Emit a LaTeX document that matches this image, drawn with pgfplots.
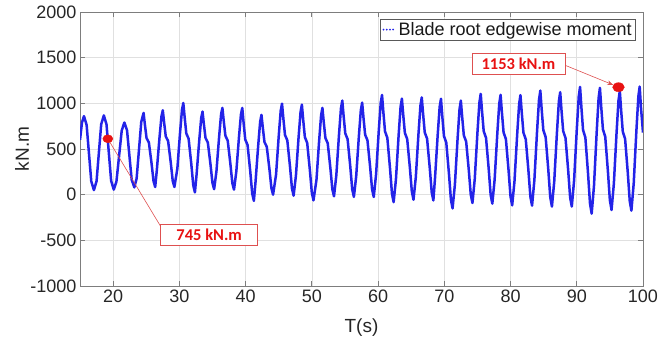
\documentclass[border=0pt]{standalone}
\usepackage{fontspec}
\setmainfont{Liberation Sans}
\newfontfamily\annfont{Carlito}
\usepackage{pgfplots}
\usepackage{pgfplotstable}
\pgfplotsset{compat=1.18}
\usetikzlibrary{arrows.meta}
\definecolor{sig}{RGB}{35,35,232}
\definecolor{axgray}{RGB}{125,125,125}
\definecolor{annred}{RGB}{232,18,18}
\definecolor{boxred}{RGB}{222,80,80}

\pgfplotstableread{
t y
15.0 600
15.3 790
15.6 860
16.0 763
16.35 455
16.7 147
17.1 50
17.5 148
17.85 459
18.2 770
18.6 868
19.0 770
19.35 462
19.7 153
20.1 55
20.5 143
20.9 423
21.3 702
21.7 790
22.1 705
22.45 435
22.8 165
23.2 80
23.55 178
23.9 488
24.25 797
24.6 895
24.8 765
25.05 619
25.4 571
25.8 344
26.1 149
26.35 84
26.6 269
27.0 622
27.3 857
27.5 924
27.7 790
27.95 638
28.3 588
28.7 353
29.0 151
29.25 84
29.7 286
30.1 673
30.4 930
30.6 1004
30.8 847
31.05 671
31.4 612
31.8 338
32.1 103
32.35 25
32.6 220
33.0 591
33.3 839
33.5 910
33.7 774
33.95 621
34.3 570
34.7 332
35.0 128
35.25 60
35.6 256
36.0 630
36.3 879
36.5 950
36.7 807
36.95 646
37.3 592
37.7 341
38.0 127
38.25 55
38.6 252
39.0 628
39.3 878
39.5 950
39.7 787
39.95 604
40.3 543
40.7 258
41.0 13
41.25 -68
41.5 139
41.9 535
42.2 799
42.4 874
42.6 734
42.85 577
43.2 524
43.6 280
43.9 70
44.15 0
44.6 219
45.0 638
45.3 917
45.5 997
45.7 836
45.95 654
46.3 594
46.7 312
47.0 70
47.25 -11
47.6 208
48.0 627
48.3 906
48.5 986
48.7 818
48.95 630
49.3 567
49.7 273
50.0 22
50.25 -62
50.7 161
51.1 586
51.4 869
51.6 950
51.8 795
52.05 621
52.4 563
52.8 292
53.1 59
53.35 -18
53.7 213
54.1 653
54.4 946
54.6 1030
54.8 861
55.05 671
55.4 608
55.8 313
56.1 59
56.35 -25
56.7 202
57.1 636
57.4 925
57.6 1008
57.8 843
58.05 657
58.4 595
58.8 306
59.1 58
59.35 -25
59.7 221
60.1 690
60.4 1003
60.6 1092
60.8 904
61.05 693
61.4 622
61.8 294
62.1 12
62.35 -82
62.7 167
63.1 644
63.4 961
63.6 1052
63.8 875
64.05 676
64.4 609
64.8 299
65.1 34
65.35 -55
65.7 191
66.1 662
66.4 975
66.6 1065
66.8 885
67.05 681
67.4 614
67.8 298
68.1 27
68.35 -63
68.6 182
69.0 649
69.3 961
69.5 1050
69.7 858
69.95 642
70.3 570
70.7 234
71.0 -54
71.25 -150
71.6 110
72.0 605
72.3 936
72.5 1030
72.7 851
72.95 649
73.3 582
73.7 268
74.0 -1
74.25 -91
74.6 172
75.0 674
75.3 1008
75.5 1104
75.7 912
75.95 695
76.3 623
76.7 287
77.0 -2
77.25 -98
77.6 164
78.0 664
78.3 998
78.5 1093
78.7 899
78.95 682
79.3 609
79.7 270
80.0 -20
80.25 -117
80.6 149
81.0 655
81.3 993
81.5 1090
81.7 896
81.95 679
82.3 606
82.7 267
83.0 -23
83.25 -120
83.6 157
84.0 686
84.3 1039
84.5 1140
84.7 937
84.95 708
85.3 632
85.7 276
86.0 -28
86.25 -130
86.6 145
87.0 671
87.3 1022
87.5 1122
87.7 922
87.95 696
88.3 621
88.7 271
89.0 -30
89.25 -130
89.6 158
90.0 708
90.3 1075
90.5 1180
90.7 958
90.95 708
91.3 625
91.7 236
92.0 -97
92.25 -208
92.6 95
93.0 674
93.3 1060
93.5 1170
93.7 956
93.95 715
94.3 635
94.7 260
95.0 -61
95.25 -168
95.6 119
96.0 666
96.3 1031
96.5 1135
96.7 925
96.95 690
97.3 611
97.7 244
98.0 -70
98.25 -175
98.6 124
99.0 695
99.3 1075
99.5 1184
99.7 950
100.0 680
}\sigdata

\begin{document}
\begin{tikzpicture}
\useasboundingbox (0pt,0pt) rectangle (660pt,346pt);
\begin{axis}[
  at={(80pt,60pt)}, anchor=south west,
  scale only axis, width=563pt, height=274pt,
  xmin=15, xmax=100, ymin=-1000, ymax=2000,
  xtick={20,30,...,100}, ytick={-1000,-500,...,2000},
  grid=major, grid style={black!12, line width=0.6pt},
  axis line style={axgray, line width=0.8pt},
  tick style={axgray, line width=0.8pt}, major tick length=5pt,
  tick align=inside, tick pos=both,
  font=\fontsize{18}{21}\selectfont,
  tick label style={font=\fontsize{18}{21}\selectfont, text=black!85},
  /pgf/number format/assume math mode=true,
  /pgf/number format/1000 sep={},
  xlabel={T(s)}, ylabel={kN.m},
  label style={font=\fontsize{19}{22}\selectfont, text=black!85},
  xlabel style={at={(axis description cs:0.5,-0.15)}, anchor=center},
  ylabel style={at={(axis description cs:-0.103,0.5)}, anchor=center},
  clip mode=individual,
  legend style={draw=black!65, fill=white, line width=0.6pt,
    at={(1,1)}, anchor=north east, xshift=-7pt, yshift=-7pt,
    inner xsep=2pt, inner ysep=1pt, font=\fontsize{18}{21}\selectfont,
    nodes={inner sep=2pt, text=black!90}},
  legend image code/.code={\draw[sig, line width=2pt, line cap=round, dash pattern=on 0pt off 3.2pt] (0pt,0pt) -- (12pt,0pt);},
]
\addplot[sig, line width=2.5pt, line join=round] table[x=t, y=y] {\sigdata};
\addlegendentry{Blade root edgewise moment}

\draw[boxred, line width=0.6pt] (axis cs:19.2,612) -- (axis cs:27.2,-350);
\draw[boxred, line width=0.6pt, -{Stealth[length=6pt,width=4.5pt]}] (axis cs:88.1,1421) -- (axis cs:95.5,1202);

\addplot[forget plot, only marks, mark=*, mark size=4pt, mark options={annred, fill=annred, xscale=1.25}] coordinates {(19.2,612)};
\addplot[forget plot, only marks, mark=*, mark size=4.5pt, mark options={annred, fill=annred, xscale=1.3}] coordinates {(96.3,1177)};

\node[draw=boxred, fill=white, line width=0.6pt, text=annred, font=\annfont\bfseries\fontsize{16.5}{19}\selectfont, minimum width=97pt, minimum height=21pt, inner sep=0pt] at (axis cs:34.5,-443) {745 kN.m};
\node[draw=boxred, fill=white, line width=0.6pt, text=annred, font=\annfont\bfseries\fontsize{16.5}{19}\selectfont, minimum width=93pt, minimum height=21pt, inner sep=0pt] at (axis cs:81.2,1435) {1153 kN.m};
\end{axis}
\end{tikzpicture}
\end{document}
